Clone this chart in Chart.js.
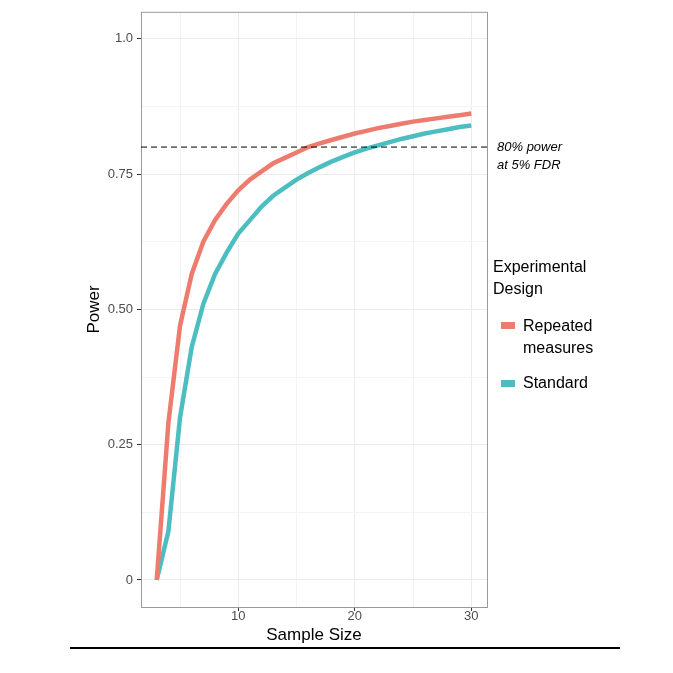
<!DOCTYPE html>
<html lang="en">
<head>
<meta charset="UTF-8">
<title>Power curve</title>
<script src="https://cdn.jsdelivr.net/npm/chart.js"></script>
<style>
  html, body { margin: 0; padding: 0; background: #fff; }
  #wrap { width: 673px; height: 673px; }
</style>
</head>
<body>
<div id="wrap"><canvas id="powerChart"></canvas></div>
<script>
// Sample sizes and power for each design
const sampleSizes = [3,4,5,6,7,8,9,10,11,12,13,14,15,16,17,18,19,20,21,22,23,24,25,26,27,28,29,30];
const repeatedPower = [0,.29,.47,.565,.625,.665,.695,.72,.74,.755,.77,.78,.79,.80,.807,.813,.819,.825,.83,.835,.839,.843,.847,.85,.853,.856,.859,.862];
const standardPower = [0,.09,.30,.43,.51,.565,.605,.64,.665,.69,.71,.725,.74,.752,.763,.773,.782,.79,.797,.803,.809,.815,.82,.825,.829,.833,.837,.84];
const seriesNames = ["Repeated measures", "Standard"];
const seriesColors = ["#ed7b6e", "#4cbec1"];
const yTickLabels = { 0: "0", 0.25: "0.25", 0.5: "0.50", 0.75: "0.75", 1: "1.0" };
const targetPower = 0.8;

const font = "'Liberation Sans', Arial, sans-serif";

function toPoints(ys) {
  return sampleSizes.map((x, i) => ({ x: x, y: ys[i] }));
}

// Panel border, 80% line, annotation, legend, x title, bottom rule
const extras = {
  id: "extras",
  afterDraw(chart) {
    const ctx = chart.ctx;
    const a = chart.chartArea;
    const y = chart.scales.y.getPixelForValue(targetPower);
    ctx.save();
    ctx.strokeStyle = "#9a9a9a";
    ctx.lineWidth = 1;
    ctx.strokeRect(a.left + 0.5, a.top + 0.5, a.right - a.left, a.bottom - a.top);

    ctx.strokeStyle = "#000";
    ctx.setLineDash([6, 4]);
    ctx.beginPath();
    ctx.moveTo(a.left, y);
    ctx.lineTo(a.right, y);
    ctx.stroke();
    ctx.setLineDash([]);

    ctx.fillStyle = "#000";
    ctx.font = "italic 13px " + font;
    ctx.textBaseline = "middle";
    ctx.fillText("80% power", a.right + 10, y);
    ctx.fillText("at 5% FDR", a.right + 10, y + 18);

    ctx.font = "16px " + font;
    ctx.fillText("Experimental", 493, 268);
    ctx.fillText("Design", 493, 290);
    ctx.fillStyle = seriesColors[0];
    ctx.fillRect(501, 322, 14, 7);
    ctx.fillStyle = "#000";
    ctx.fillText("Repeated", 523, 327);
    ctx.fillText("measures", 523, 349);
    ctx.fillStyle = seriesColors[1];
    ctx.fillRect(501, 380, 14, 7);
    ctx.fillStyle = "#000";
    ctx.fillText("Standard", 523, 384);

    ctx.font = "17px " + font;
    ctx.textAlign = "center";
    ctx.fillText("Sample Size", (a.left + a.right) / 2, 635);

    ctx.lineWidth = 2;
    ctx.beginPath();
    ctx.moveTo(70, 648);
    ctx.lineTo(620, 648);
    ctx.stroke();
    ctx.restore();
  }
};

new Chart("powerChart", {
  type: "line",
  data: {
    datasets: [
      { label: seriesNames[0], data: toPoints(repeatedPower), borderColor: seriesColors[0], borderWidth: 4.5, pointRadius: 0, tension: 0 },
      { label: seriesNames[1], data: toPoints(standardPower), borderColor: seriesColors[1], borderWidth: 4.5, pointRadius: 0, tension: 0 }
    ]
  },
  options: {
    responsive: true,
    maintainAspectRatio: false,
    animation: false,
    layout: { padding: { left: 80, right: 186, top: 4, bottom: 0 } },
    plugins: { legend: { display: false }, tooltip: { enabled: false } },
    scales: {
      x: {
        type: "linear",
        min: 1.65, max: 31.35,
        afterFit(s) { s.height = 66; },
        afterBuildTicks(s) { s.ticks = [5,10,15,20,25,30].map(v => ({ value: v })); },
        ticks: {
          color: "#4d4d4d", font: { family: font, size: 13 }, padding: -2,
          callback: v => (v % 10 === 0 ? String(v) : "")
        },
        grid: {
          color: c => (c.tick && c.tick.value % 10 === 0 ? "#ebebeb" : "#f4f4f4"),
          tickColor: c => (c.tick && c.tick.value % 10 === 0 ? "#333" : "rgba(0,0,0,0)"),
          tickLength: 4
        },
        border: { display: false }
      },
      y: {
        min: -0.05, max: 1.05,
        afterFit(s) { s.width = 61; },
        afterBuildTicks(s) { s.ticks = [0,0.125,0.25,0.375,0.5,0.625,0.75,0.875,1].map(v => ({ value: v })); },
        ticks: {
          color: "#4d4d4d", font: { family: font, size: 13 }, padding: 4,
          callback: v => (yTickLabels[v] !== undefined ? yTickLabels[v] : "")
        },
        grid: {
          color: c => (c.tick && yTickLabels[c.tick.value] !== undefined ? "#ebebeb" : "#f4f4f4"),
          tickColor: c => (c.tick && yTickLabels[c.tick.value] !== undefined ? "#333" : "rgba(0,0,0,0)"),
          tickLength: 4
        },
        border: { display: false },
        title: { display: true, text: "Power", color: "#000", font: { family: font, size: 17 }, padding: { bottom: 8 } }
      }
    }
  },
  plugins: [extras]
});
</script>
</body>
</html>
